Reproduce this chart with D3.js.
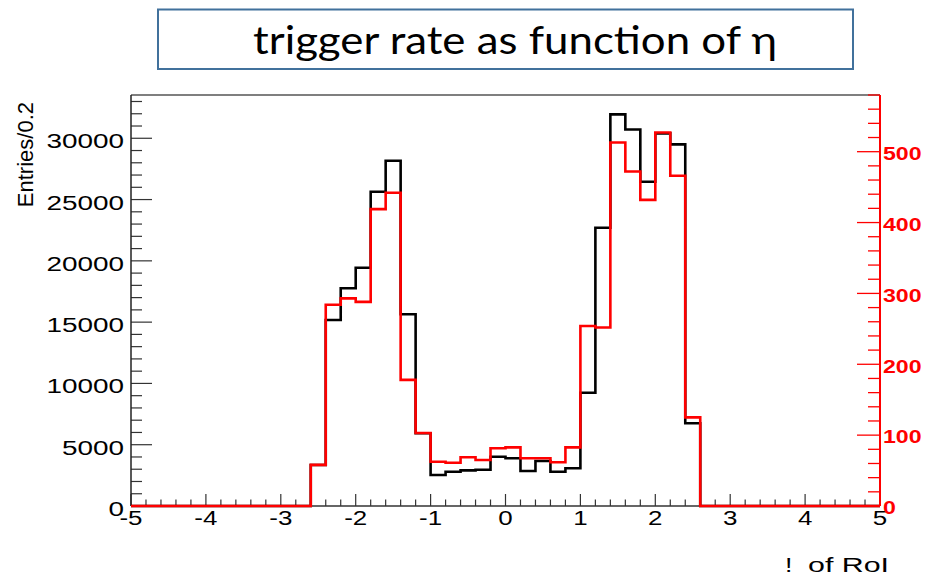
<!DOCTYPE html>
<html>
<head>
<meta charset="utf-8">
<script src="https://cdn.jsdelivr.net/npm/d3@7"></script>
<style>
  html, body { margin: 0; padding: 0; background: #fff; }
  svg { display: block; }
</style>
</head>
<body>
<svg id="chart" width="926" height="576"></svg>
<script>
// ---- data ----
const binLowEdges = [-5.0,-4.8,-4.6,-4.4,-4.2,-4.0,-3.8,-3.6,-3.4,-3.2,-3.0,-2.8,
  -2.6,-2.4,-2.2,-2.0,-1.8,-1.6,-1.4,-1.2,-1.0,-0.8,-0.6,-0.4,-0.2,0.0,
  0.2,0.4,0.6,0.8,1.0,1.2,1.4,1.6,1.8,2.0,2.2,2.4,
  2.6,2.8,3.0,3.2,3.4,3.6,3.8,4.0,4.2,4.4,4.6,4.8];
const binWidth = 0.2;
const blackCounts = [0,0,0,0,0,0,0,0,0,0,0,0,
  3340,15170,17760,19440,25640,28170,15640,5930,2530,2800,2910,2960,4020,3890,
  2860,3670,2800,3080,9240,22700,31950,30720,26450,30400,29500,6750,
  0,0,0,0,0,0,0,0,0,0,0,0];
const redCounts = [0,0,0,0,0,0,0,0,0,0,0,0,
  58,284,293,288,419,442,178,103,62.5,61,68.7,65,81.4,82.8,
  67.3,67.3,61.7,82.8,254,252,513,472,432,527,466,125,
  0,0,0,0,0,0,0,0,0,0,0,0];
const xTickLabels = [-5,-4,-3,-2,-1,0,1,2,3,4,5];
const leftTickLabels = [0,5000,10000,15000,20000,25000,30000];
const rightTickLabels = [0,100,200,300,400,500];
const titleText = "trigger rate as function of \u03b7";
const yTitle = "Entries/0.2";
const xTitleGlyph = "!";
const xTitleRest = "of RoI";

// ---- layout ----
const svg = d3.select("#chart");
const x = d3.scaleLinear().domain([-5, 5]).range([131, 880]);
const yL = d3.scaleLinear().domain([0, 33530]).range([506, 95]);
const yR = d3.scaleLinear().domain([0, 580]).range([506, 95]);
const FONT = "'Liberation Sans', Arial, Helvetica, sans-serif";

// title box
svg.append("rect").attr("x", 158).attr("y", 9.5).attr("width", 695).attr("height", 59.5)
  .attr("fill", "#fff").attr("stroke", "#41719c").attr("stroke-width", 2);
svg.append("text").attr("x", 253).attr("y", 54)
  .attr("font-family", "Lato, 'Open Sans', sans-serif").attr("font-size", 39)
  .attr("textLength", 524).attr("lengthAdjust", "spacingAndGlyphs")
  .attr("fill", "#000").text(titleText);

// frame top line
svg.append("line").attr("x1", x(-5)).attr("x2", x(5)).attr("y1", yL.range()[1]).attr("y2", yL.range()[1])
  .attr("stroke", "#555").attr("stroke-width", 1.5);

// x axis ticks (inward, up)
const gx = svg.append("g");
const xMinor = d3.range(0, 51).map(i => -5 + i * 0.2);
gx.selectAll("line.minor").data(xMinor).join("line")
  .attr("x1", d => x(d)).attr("x2", d => x(d))
  .attr("y1", 506).attr("y2", d => Math.abs(d - Math.round(d)) < 1e-6 ? 494 : 499.5)
  .attr("stroke", "#333").attr("stroke-width", 1.2);
svg.append("line").attr("x1", x(-5)).attr("x2", x(5)).attr("y1", 506).attr("y2", 506)
  .attr("stroke", "#333").attr("stroke-width", 1.5);
gx.selectAll("text").data(xTickLabels).join("text")
  .attr("transform", d => `translate(${x(d)},525) scale(1.33,1)`)
  .attr("text-anchor", "middle").attr("font-family", FONT).attr("font-size", 19.5)
  .attr("fill", "#000").text(d => d);

// left axis
const gl = svg.append("g");
const yMinor = d3.range(0, 34).map(i => i * 1000);
gl.selectAll("line").data(yMinor).join("line")
  .attr("x1", 131).attr("x2", d => d % 5000 === 0 ? 152 : 142)
  .attr("y1", d => yL(d)).attr("y2", d => yL(d))
  .attr("stroke", "#333").attr("stroke-width", 1.2);
svg.append("line").attr("x1", 131).attr("x2", 131).attr("y1", 95).attr("y2", 506)
  .attr("stroke", "#222").attr("stroke-width", 1.5);
gl.selectAll("text").data(leftTickLabels).join("text")
  .attr("transform", d => `translate(124,${yL(d) + 10}) scale(1.33,1)`)
  .attr("text-anchor", "end").attr("font-family", FONT).attr("font-size", 21)
  .attr("fill", "#000").text(d => d);
svg.append("text").attr("transform", "translate(33,102) rotate(-90)")
  .attr("text-anchor", "end").attr("font-family", FONT).attr("font-size", 22)
  .attr("fill", "#000").text(yTitle);

// histograms
function stepPoints(counts) {
  const pts = binLowEdges.map((e, i) => [e, counts[i]]);
  pts.push([binLowEdges[binLowEdges.length - 1] + binWidth, counts[counts.length - 1]]);
  return pts;
}
const lineL = d3.line().x(d => x(d[0])).y(d => yL(d[1])).curve(d3.curveStepAfter);
const lineR = d3.line().x(d => x(d[0])).y(d => yR(d[1])).curve(d3.curveStepAfter);
svg.append("path").attr("d", lineL(stepPoints(blackCounts)))
  .attr("fill", "none").attr("stroke", "#000").attr("stroke-width", 2.6);
svg.append("path").attr("d", lineR(stepPoints(redCounts)))
  .attr("fill", "none").attr("stroke", "#ff0000").attr("stroke-width", 2.6);

// right axis (red)
const gr = svg.append("g");
const rMinor = d3.range(0, 30).map(i => i * 20);
gr.selectAll("line").data(rMinor).join("line")
  .attr("x1", 880).attr("x2", d => d % 100 === 0 ? 857 : 868)
  .attr("y1", d => yR(d)).attr("y2", d => yR(d))
  .attr("stroke", "#ff0000").attr("stroke-width", 1.3);
svg.append("line").attr("x1", 880).attr("x2", 880).attr("y1", 95).attr("y2", 506)
  .attr("stroke", "#ff0000").attr("stroke-width", 2);
gr.selectAll("text").data(rightTickLabels).join("text")
  .attr("transform", d => `translate(883,${yR(d) + 8.3}) scale(1.25,1)`)
  .attr("text-anchor", "start").attr("font-family", FONT).attr("font-size", 18.5)
  .attr("font-weight", "bold").attr("fill", "#ff0000").text(d => d);

// x title
svg.append("text").attr("transform", "translate(785,572) scale(1.33,1)")
  .attr("font-family", FONT).attr("font-size", 20).attr("fill", "#000").text(xTitleGlyph);
svg.append("text").attr("x", 808).attr("y", 572)
  .attr("font-family", FONT).attr("font-size", 20)
  .attr("textLength", 81).attr("lengthAdjust", "spacingAndGlyphs")
  .attr("fill", "#000").text(xTitleRest);
</script>
</body>
</html>
